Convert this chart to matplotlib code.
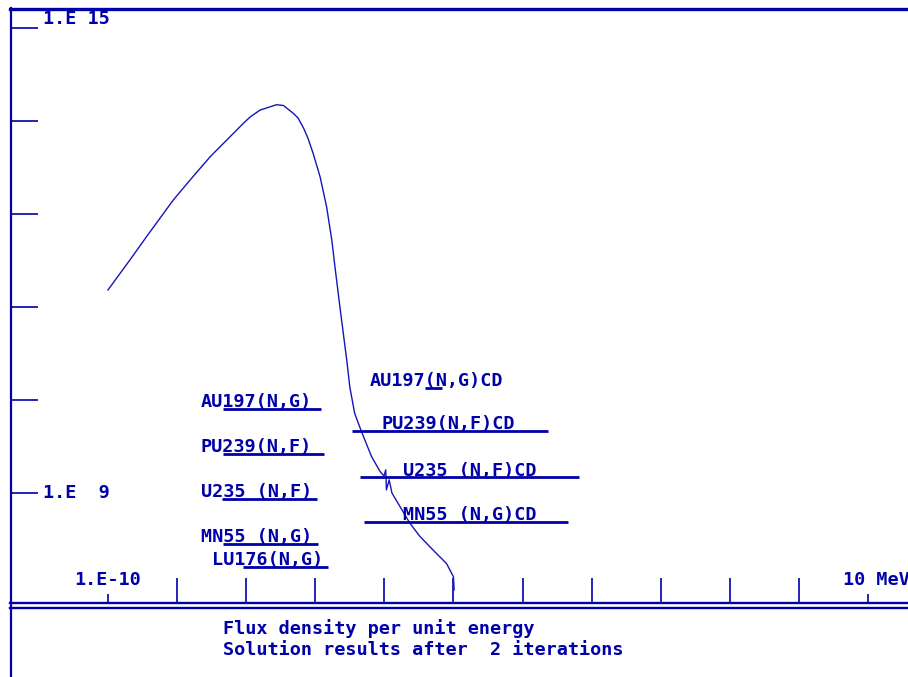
import numpy as np
import matplotlib
matplotlib.use("Agg")
import matplotlib.pyplot as plt
from matplotlib.lines import Line2D
from matplotlib.ticker import NullLocator

# Flux spectrum (log10 energy in MeV, log10 flux density)
log_energy = [-10.00, -9.68, -9.44, -9.055, -8.81, -8.52, -8.33, -8.04, -7.945,
              -7.80, -7.685, -7.56, -7.46, -7.32, -7.25, -7.17, -7.106, -7.03,
              -6.93, -6.835, -6.76, -6.715, -6.64, -6.545, -6.50, -6.43, -6.33,
              -6.185, -6.06, -6.005, -5.98, -5.97, -5.93, -5.89, -5.77, -5.63,
              -5.485, -5.29, -5.10, -5.00, -4.99]
log_flux = [11.62, 12.01, 12.31, 12.78, 13.04, 13.34, 13.51, 13.77, 13.85,
            13.94, 13.974, 14.01, 14.00, 13.90, 13.84, 13.71, 13.58, 13.38,
            13.08, 12.69, 12.26, 11.92, 11.38, 10.72, 10.37, 10.03, 9.79,
            9.47, 9.275, 9.22, 9.30, 9.04, 9.17, 9.00, 8.82, 8.61,
            8.44, 8.26, 8.09, 7.92, 7.75]

# Detector reactions and their energy response ranges (log10 MeV)
reactions = ["AU197(N,G)", "PU239(N,F)", "U235 (N,F)", "MN55 (N,G)", "LU176(N,G)",
             "AU197(N,G)CD", "PU239(N,F)CD", "U235 (N,F)CD", "MN55 (N,G)CD"]
range_lo = [-8.336, -8.336, -8.350, -8.336, -8.046, -5.412, -6.469, -6.353, -6.295]
range_hi = [-6.918, -6.874, -6.975, -6.961, -6.816, -5.166, -3.632, -3.184, -3.343]

# where each reaction is stacked and where its name starts
row_level = [10.084, 9.503, 8.923, 8.342, 8.045, 10.355, 9.800, 9.206, 8.626]
name_start = [-8.654, -8.654, -8.654, -8.654, -8.495, -6.208, -6.035, -5.731, -5.731]

y_ticks = [15, 13.8, 12.6, 11.4, 10.2, 9]
x_major = [-10, 1]
x_minor = list(range(-9, 1))

BLUE = "#0000AA"
W, H = 908, 677

plt.rcParams["font.family"] = ["DejaVu Sans Mono"]
plt.rcParams["font.weight"] = "bold"

fig = plt.figure(figsize=(W / 100, H / 100), dpi=100)
fig.patch.set_facecolor("white")

ax = fig.add_axes([10 / W, (H - 603) / H, 898 / W, 594 / H])
ax.set_xscale("log")
ax.set_yscale("log")
ax.set_xlim(10 ** -11.418, 10 ** 1.579)
ax.set_ylim(10 ** 7.581, 10 ** 15.245)
for s in ax.spines.values():
    s.set_visible(False)

ax.set_xticks(10.0 ** np.array(x_major))
ax.set_xticks(10.0 ** np.array(x_minor), minor=True)
ax.set_yticks(10.0 ** np.array(y_ticks))
ax.yaxis.set_minor_locator(NullLocator())
ax.tick_params(axis="x", which="major", direction="in", length=6.5, width=1.2,
               color=BLUE, labelbottom=False)
ax.tick_params(axis="x", which="minor", direction="in", length=18, width=1.2,
               color=BLUE, labelbottom=False)
ax.tick_params(axis="y", which="major", direction="in", length=20, width=1.2,
               color=BLUE, labelleft=False)

# flux curve
ax.plot(10.0 ** np.array(log_energy), 10.0 ** np.array(log_flux),
        color="#1515B5", lw=1.0)

# reaction ranges with names
for name, lo, hi, lev, x0 in zip(reactions, range_lo, range_hi, row_level, name_start):
    ax.plot([10 ** lo, 10 ** hi], [10 ** lev, 10 ** lev], color=BLUE, lw=2.0,
            solid_capstyle="butt")
    ax.text(10 ** x0, 10 ** (lev + 0.02), name, color=BLUE, fontsize=13.3,
            va="baseline", ha="left")

# axis labels
ax.text(33 / 898, 10 ** 15.116, "1.E 15", transform=ax.get_yaxis_transform(),
        color=BLUE, fontsize=13.3, va="center", ha="left")
ax.text(33 / 898, 10 ** 9.0, "1.E  9", transform=ax.get_yaxis_transform(),
        color=BLUE, fontsize=13.3, va="center", ha="left")
ax.text(1e-10, 23 / 594, "1.E-10", transform=ax.get_xaxis_transform(),
        color=BLUE, fontsize=13.3, va="center", ha="center")
ax.text(10 ** 0.637, 23 / 594, "10 MeV", transform=ax.get_xaxis_transform(),
        color=BLUE, fontsize=13.3, va="center", ha="left", clip_on=False)

# frame lines
def hline(y, x0, x1, lw):
    fig.add_artist(Line2D([x0 / W, x1 / W], [1 - y / H, 1 - y / H],
                          transform=fig.transFigure, color=BLUE, lw=lw))

def vline(x, y0, y1, lw):
    fig.add_artist(Line2D([x / W, x / W], [1 - y0 / H, 1 - y1 / H],
                          transform=fig.transFigure, color=BLUE, lw=lw))

hline(9, 10, W, 2.4)
hline(603, 10, W, 1.7)
hline(608, 10, W, 1.7)
vline(10.5, 8, H, 1.6)

# caption
fig.text(223 / W, 1 - 634 / H, "Flux density per unit energy", color=BLUE,
         fontsize=13.3, va="baseline", ha="left")
fig.text(223 / W, 1 - 655 / H, "Solution results after  2 iterations", color=BLUE,
         fontsize=13.3, va="baseline", ha="left")

fig.savefig("out.png", dpi=100, facecolor="white")
